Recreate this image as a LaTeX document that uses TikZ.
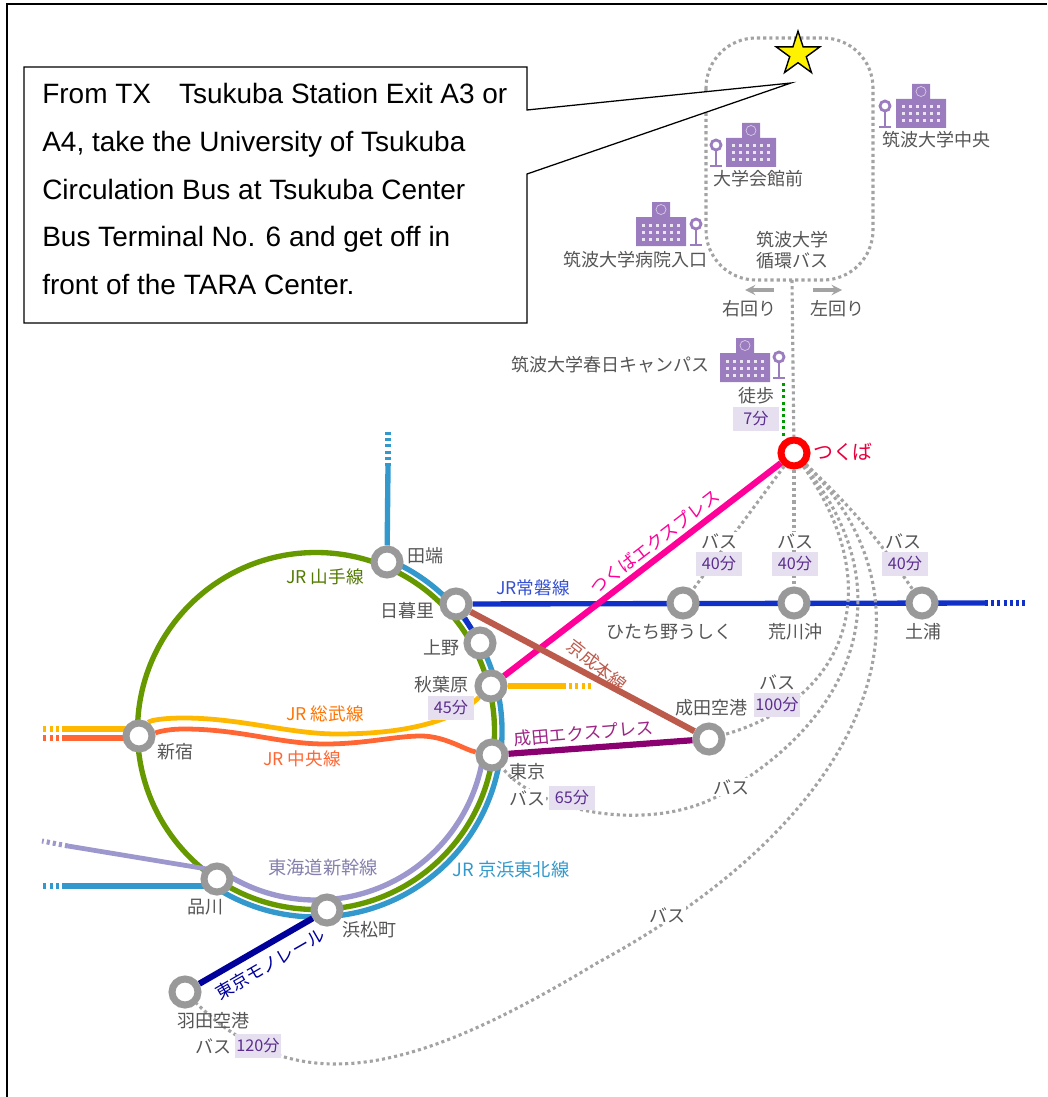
\documentclass[tikz,border=0pt]{standalone}
\usepackage{fontspec}
\setmainfont{Liberation Sans}
\newfontfamily\jpfont{Noto Sans CJK JP}
\usetikzlibrary{shapes.geometric, backgrounds}
\definecolor{joban}{HTML}{1030C8}
\definecolor{tx}{HTML}{FF0099}
\definecolor{keisei}{HTML}{BC5A4B}
\definecolor{nex}{HTML}{8B0070}
\definecolor{mono}{HTML}{00009A}
\definecolor{keihin}{HTML}{3399CC}
\definecolor{yamanote}{HTML}{669900}
\definecolor{tokaido}{HTML}{9C97CC}
\definecolor{sobu}{HTML}{FFB800}
\definecolor{chuo}{HTML}{FF6633}
\definecolor{campus}{HTML}{9B7CBF}
\definecolor{badgefill}{HTML}{E6DFF0}
\definecolor{badgetext}{HTML}{5B2D8E}
\definecolor{busgray}{HTML}{A3A3A3}
\definecolor{labelgray}{HTML}{555555}
\definecolor{ringgray}{HTML}{999999}
\definecolor{hubred}{HTML}{E8003D}
\tikzset{
  campus/.pic = {
    \fill[campus] (-25, 0) rectangle (25, 29) (-9, 29) rectangle (9, 44);
    \draw[white!60!campus, line width = 0.5pt] (0, 36.5) circle (5);
    \foreach \i in {-17.5, -10.5, ..., 17.5} \foreach \j in {7, 14, 21}
      \fill[white!80!campus] (\i - 1.5, \j - 1.5) rectangle (\i + 1.5, \j + 1.5);
  },
  stoppin/.pic = {
    \draw[campus, line width = 2pt] (-6, 0) -- (6, 0) (0, 0) -- (0, 16);
    \draw[campus, fill = white, line width = 2pt] (0, 21) circle (5);
  }
}
\begin{document}
\begin{tikzpicture}[x = 0.025cm, y = 0.025cm,
    station/.style = {circle, draw = ringgray, fill = white, line width = 5pt, minimum size = 18.5pt, inner sep = 0pt},
    hub/.style = {station, draw = red},
    rail/.style = {line width = 3.8pt},
    express/.style = {line width = 4.4pt},
    thinrail/.style = {line width = 3.4pt},
    stub/.style = {line width = 3.6pt, dash pattern = on 2.2pt off 2.2pt},
    busline/.style = {draw = busgray, line width = 2.2pt, dash pattern = on 2.2pt off 2.2pt},
    stationlabel/.style = {text = labelgray, font = \jpfont\fontsize{12.8}{15}\selectfont, inner sep = 0pt},
    linelabel/.style = {font = \jpfont\fontsize{12.5}{15}\selectfont, inner sep = 0pt},
    buslabel/.style = {stationlabel, fill = white, inner sep = 1pt},
    badge/.style = {fill = badgefill, text = badgetext, font = \jpfont\fontsize{11.5}{14}\selectfont, minimum width = 32.5pt, minimum height = 16.5pt, inner sep = 0pt}]
  \useasboundingbox (0, 0) rectangle (1047, -1097);
  \draw[line width = 1.3pt] (7, -1097) -- (7, -4) -- (1047, -4);

  \foreach \name/\x/\y in {tabata/387/562, nippori/456/604, ueno/480/643, akiba/491/686, tokyo/492/755, shinjuku/139/736,
      shinagawa/217/879, hamamatsu/327/910, haneda/185/992, narita/709/739, hitachino/683/603, arakawa/794/603, tsuchiura/922/603}
    \node[station] (\name) at (\x, -\y) {};
  \node[hub] (tsukuba) at (794, -453) {};

  \coordinate (ringc) at (316, -731);
  \coordinate (joban end) at (985, -603);
  \coordinate (joban far) at (1026, -603);
  \coordinate (tabata end) at (388, -466);
  \coordinate (tabata far) at (388, -432);
  \coordinate (sobu end) at (563, -686);
  \coordinate (sobu far) at (592, -686);
  \coordinate (sobu east) at (139, -729);
  \coordinate (sobu west) at (65, -729);
  \coordinate (sobu far west) at (42, -729);
  \coordinate (chuo east) at (139, -738);
  \coordinate (chuo west) at (65, -738);
  \coordinate (chuo far west) at (42, -738);
  \coordinate (keihin east) at (210, -886);
  \coordinate (keihin west) at (65, -886);
  \coordinate (keihin far west) at (42, -886);
  \coordinate (tokaido east) at (207, -869);
  \coordinate (tokaido west) at (68, -846);
  \coordinate (tokaido far west) at (42, -841);
  \coordinate (loop foot) at (792, -280);
  \coordinate (walk top) at (783.5, -383);
  \coordinate (walk foot) at (783.5, -437);

  \begin{scope}[on background layer]
    \draw[rail, yamanote] (ringc) circle (178.5);
    \draw[rail, keihin] (ringc) ++(67.5:186) arc[start angle = 67.5, end angle = -124, radius = 186];
    \draw[rail, tokaido] (ringc) ++(-124:169) arc[start angle = -124, end angle = -8, radius = 169];
    \draw[rail, keihin] (tabata) -- (tabata end);
    \draw[stub, keihin] (tabata end) -- (tabata far);
    \draw[rail, joban] (nippori) -- (joban end);
    \draw[stub, joban] (joban end) -- (joban far);
    \draw[rail, joban] (nippori) -- (ueno);
    \draw[rail, sobu] (akiba) -- (sobu end);
    \draw[stub, sobu] (sobu end) -- (sobu far);
    \draw[rail, sobu] (sobu east) -- (sobu west);
    \draw[stub, sobu] (sobu west) -- (sobu far west);
    \draw[rail, chuo] (chuo east) -- (chuo west);
    \draw[stub, chuo] (chuo west) -- (chuo far west);
    \draw[rail, keihin] (keihin east) -- (keihin west);
    \draw[stub, keihin] (keihin west) -- (keihin far west);
    \draw[thinrail, tokaido] (tokaido east) -- (tokaido west);
    \draw[stub, tokaido] (tokaido west) -- (tokaido far west);
    \draw[thinrail, sobu] (shinjuku) .. controls (150, -720) and (165, -718) .. (184, -718)
      .. controls (240, -718) and (290, -734) .. (337, -734) .. controls (395, -734) and (450, -725) .. (akiba);
    \draw[thinrail, chuo] (shinjuku) .. controls (155, -733) and (165, -729) .. (184, -729)
      .. controls (240, -729) and (280, -744) .. (325, -744) .. controls (365, -744) and (395, -736) .. (421, -736)
      .. controls (445, -736) and (465, -750) .. (tokyo);
    \draw[express, tx] (tsukuba) -- (akiba);
    \draw[express, keisei] (nippori) -- (narita);
    \draw[express, nex] (tokyo) -- (narita);
    \draw[express, mono] (hamamatsu) -- (haneda);

    \draw[busline, rounded corners = 35.5pt] (706, -38) rectangle (873, -280);
    \draw[busline] (loop foot) -- (tsukuba);
    \draw[draw = green!60!black, line width = 2.4pt, dash pattern = on 2.2pt off 2.2pt] (walk top) -- (walk foot);
    \draw[busline] (tsukuba) -- (hitachino);
    \draw[busline] (tsukuba) -- (arakawa);
    \draw[busline] (tsukuba) to[bend left = 6] (tsuchiura);
    \draw[busline] (tsukuba) .. controls (890, -590) and (845, -700) .. (narita);
    \draw[busline] (tsukuba) .. controls (905, -590) and (855, -715) .. (728, -790) .. controls (660, -835) and (540, -815) .. (tokyo);
    \draw[busline] (tsukuba) .. controls (945, -600) and (880, -810) .. (597, -963) .. controls (420, -1070) and (300, -1105) .. (haneda);
  \end{scope}

  \foreach \x/\y in {921/128, 751/167, 661/246, 745/382} \path (\x, -\y) pic {campus};
  \foreach \x/\y in {885/127, 716/166, 696/245, 779/378} \path (\x, -\y) pic {stoppin};

  \foreach \name/\x/\y/\txt in {ltabata/425/556/田端, lnippori/407/611/日暮里, lueno/441/648/上野, lakiba/441/685/秋葉原,
      ltokyo/527/772/東京, lshinjuku/175/752/新宿, lshinagawa/205/907/品川, lhamamatsu/369/930/浜松町, lhaneda/213/1021/羽田空港,
      lnarita/711/708/成田空港, lhitachino/669/632/ひたち野うしく, larakawa/795/632/荒川沖, ltsuchiura/923/632/土浦,
      lcentral/936/140/筑波大学中央, lkaikan/758/179/大学会館前, lhospital/635/260/筑波大学病院入口, lkasuga/610/365/筑波大学春日キャンパス,
      lrightturn/749/309/右回り, lleftturn/837/309/左回り, lwalk/756/396/徒歩}
    \node[stationlabel] (\name) at (\x, -\y) {\txt};
  \node[stationlabel, align = center] (lloop) at (792, -250) {筑波大学\\循環バス};
  \node[stationlabel, text = hubred, font = \jpfont\fontsize{14.2}{16}\selectfont] (ltsukuba) at (843, -452) {つくば};

  \coordinate (right tail) at (774, -290);
  \coordinate (right tip) at (745, -290);
  \coordinate (left tail) at (813, -290);
  \coordinate (left tip) at (842, -290);
  \draw[->, >=stealth, busgray, line width = 2.2pt] (right tail) -- (right tip);
  \draw[->, >=stealth, busgray, line width = 2.2pt] (left tail) -- (left tip);

  \foreach \name/\x/\y in {bus one/719/541, bus two/795/541, bus three/903/541, bus four/777/682, bus five/527/798, bus six/731/787, bus seven/667/915, bus eight/213/1046}
    \node[buslabel] (\name) at (\x, -\y) {バス};
  \foreach \name/\x/\y/\txt in {tseven/756/419/7分, tone/719/564/40分, ttwo/795/564/40分, tthree/905/564/40分, tfour/777/705/100分,
      tfive/572/798/65分, tsix/451/708/45分, teight/258/1046/120分}
    \node[badge] (\name) at (\x, -\y) {\txt};

  \node[linelabel, text = joban!85!white] (ljoban) at (533, -588) {JR常磐線};
  \node[linelabel, text = tx, rotate = 37.6] (ltx) at (655, -542) {つくばエクスプレス};
  \node[linelabel, text = keisei, rotate = -38] (lkeisei) at (597, -665) {京成本線};
  \node[linelabel, text = nex!85!white, rotate = 5] (lnex) at (584, -733) {成田エクスプレス};
  \node[linelabel, text = mono, rotate = 30] (lmono) at (270, -964) {東京モノレール};
  \node[linelabel, text = yamanote!80!black] (lyamanote) at (325, -577) {JR 山手線};
  \node[linelabel, text = orange!90!red] (lsobu) at (325, -714) {JR 総武線};
  \node[linelabel, text = chuo] (lchuo) at (302, -759) {JR 中央線};
  \node[linelabel, text = tokaido!85!black, font = \jpfont\fontsize{13}{15}\selectfont] (ltokaido) at (323, -868) {東海道新幹線};
  \node[linelabel, text = keihin, font = \jpfont\fontsize{13}{15}\selectfont] (lkeihin) at (511, -870) {JR 京浜東北線};

  \draw[fill = white, line width = 0.9pt] (24, -67) -- (527, -67) -- (527, -110) -- (791, -83) -- (527, -174) -- (527, -323) -- (24, -323) -- cycle;
  \node[anchor = north west, align = left, inner sep = 0pt, font = \fontsize{19.9}{34}\selectfont] (note) at (42, -83) {From TX\hspace{1em}Tsukuba Station Exit A3 or\\A4, take the University of Tsukuba\\Circulation Bus at Tsukuba Center\\Bus Terminal No. 6 and get off in\\front of the TARA Center.};
  \node[star, star points = 5, star point ratio = 2.618, fill = yellow, draw = black, line width = 1pt, minimum size = 32.5pt, inner sep = 0pt] (goal) at (798, -54) {};
\end{tikzpicture}
\end{document}
